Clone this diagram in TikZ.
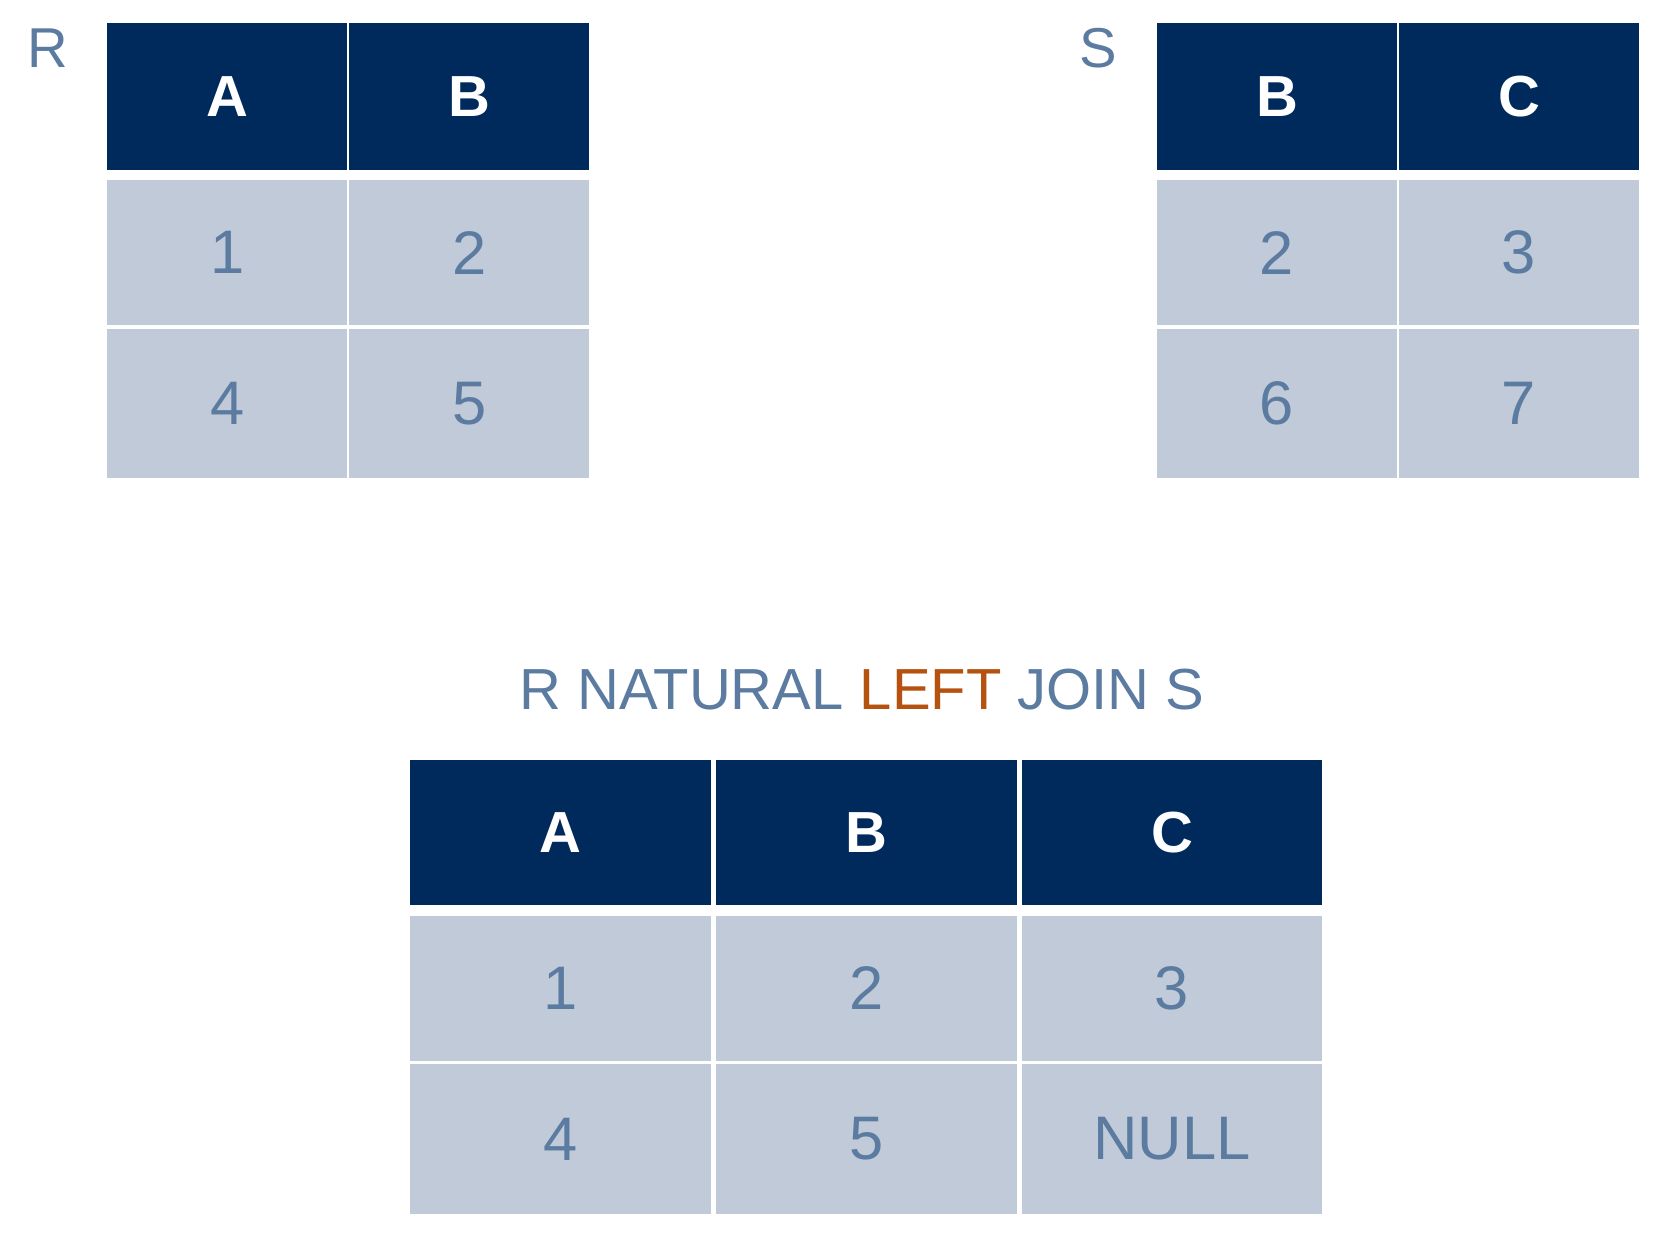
\documentclass[tikz,border=0pt]{standalone}
\usepackage{fontspec}
\setmainfont{Liberation Sans}
\usetikzlibrary{positioning}
\definecolor{headblue}{RGB}{0,42,92}
\definecolor{cellgrey}{RGB}{192,202,216}
\definecolor{textblue}{RGB}{91,123,160}
\definecolor{leftorange}{RGB}{181,82,15}
\tikzset{
  head/.style={fill=headblue, text=white, inner sep=0, font=\fontsize{16.5}{20}\selectfont\bfseries},
  cell/.style={fill=cellgrey, text=textblue, inner sep=0, font=\fontsize{17.5}{21}\selectfont},
  tname/.style={text=textblue, font=\fontsize{16}{19}\selectfont}
}
\begin{document}
\begin{tikzpicture}[x={(0.010615cm,0)}, y={(0,-0.010615cm)}]
\useasboundingbox (0,0) rectangle (1560,1160.6);
% table R
\node[tname] (Rname) at (45,45) {R};
\foreach \x/\t [count=\i] in {214/A, 442/B}
  \node[head, minimum width=2.40cm, minimum height=1.465cm] (Rh\i) at (\x,91) {\t};
\foreach \x/\a/\b [count=\i] in {214/1/4, 442/2/5} {
  \node[cell, minimum width=2.40cm, minimum height=1.455cm] (Ra\i) at (\x,238) {\a};
  \node[cell, minimum width=2.40cm, minimum height=1.486cm] (Rb\i) at (\x,380) {\b};
}
% table S
\node[tname] (Sname) at (1035,45) {S};
\foreach \x/\t [count=\i] in {1203/B, 1431/C}
  \node[head, minimum width=2.40cm, minimum height=1.465cm] (Sh\i) at (\x,91) {\t};
\foreach \x/\a/\b [count=\i] in {1203/2/6, 1431/3/7} {
  \node[cell, minimum width=2.40cm, minimum height=1.455cm] (Sa\i) at (\x,238) {\a};
  \node[cell, minimum width=2.40cm, minimum height=1.486cm] (Sb\i) at (\x,380) {\b};
}
% result
\node[tname, font=\fontsize{16.5}{20}\selectfont] (title) at (812,650)
  {R NATURAL \textcolor{leftorange}{LEFT} JOIN S};
\foreach \x/\t [count=\i] in {528/A, 816/B, 1104/C}
  \node[head, minimum width=3.01cm, minimum height=1.455cm] (Jh\i) at (\x,784) {\t};
\foreach \x/\a/\b [count=\i] in {528/1/4, 816/2/5, 1104/3/NULL} {
  \node[cell, minimum width=3.01cm, minimum height=1.455cm] (Ja\i) at (\x,931) {\a};
  \node[cell, minimum width=3.01cm, minimum height=1.497cm] (Jb\i) at (\x,1073) {\b};
}
\end{tikzpicture}
\end{document}
